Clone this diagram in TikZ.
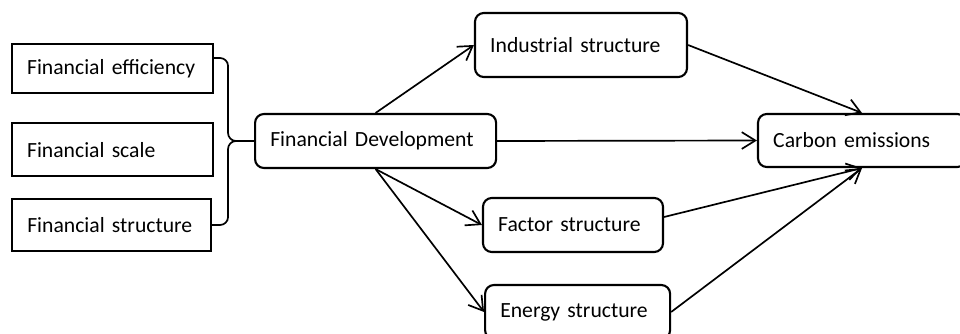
\documentclass[tikz,border=0pt]{standalone}
\usepackage{fontspec}
\setmainfont{Carlito}
\usetikzlibrary{arrows.meta}

\begin{document}
\begin{tikzpicture}[
    sqbox/.style={draw=black,line width=1.5pt,align=left,inner xsep=0.38cm,inner ysep=0pt,font=\fontsize{15.4}{18}\selectfont},
    rndbox/.style={sqbox,rounded corners=0.22cm},
    link/.style={line width=1.2pt},
    >={Straight Barb[length=3.4mm,width=4.2mm]}]
    \useasboundingbox (0,0) rectangle (24,-8.35);
    \clip (0,0) rectangle (24,-8.35);
    \node[sqbox,text width=4.265cm,minimum height=1.225cm] (eff) at (2.81,-1.71) {Financial efficiency};
    \node[sqbox,text width=4.265cm,minimum height=1.325cm] (scale) at (2.81,-3.74) {Financial scale};
    \node[sqbox,text width=4.215cm,minimum height=1.3cm] (struct) at (2.79,-5.625) {Financial structure};
    \node[rndbox,text width=5.265cm,minimum height=1.35cm] (fd) at (9.39,-3.525) {Financial Development};
    \node[rndbox,text width=4.54cm,minimum height=1.6cm] (ind) at (14.525,-1.125) {Industrial structure};
    \node[rndbox,text width=4.44cm,minimum height=1.325cm] (carb) at (21.55,-3.5125) {Carbon emissions};
    \node[rndbox,text width=3.74cm,minimum height=1.35cm] (fac) at (14.325,-5.625) {Factor structure};
    \node[rndbox,text width=3.865cm,minimum height=1.35cm] (ene) at (14.44,-7.8) {Energy structure};
    \coordinate (brc) at ([xshift=-0.65cm]fd.west);
    \draw[link,rounded corners=0.2cm] ([yshift=0.26cm]eff.east) -| (brc) -- (fd.west);
    \draw[link,rounded corners=0.2cm] (struct.east) -| (brc) -- (fd.west);
    \path [->,link](fd.north) edge (ind.west);
    \path [->,link](fd.east) edge (carb.west);
    \path [->,link](fd.south) edge (fac.west);
    \path [->,link](fd.south) edge (ene.west);
    \path [->,link](ind.east) edge (carb.north);
    \path [->,link]([yshift=0.2cm]fac.east) edge (carb.south);
    \path [->,link](ene.east) edge (carb.south);
  \end{tikzpicture}
\end{document}
